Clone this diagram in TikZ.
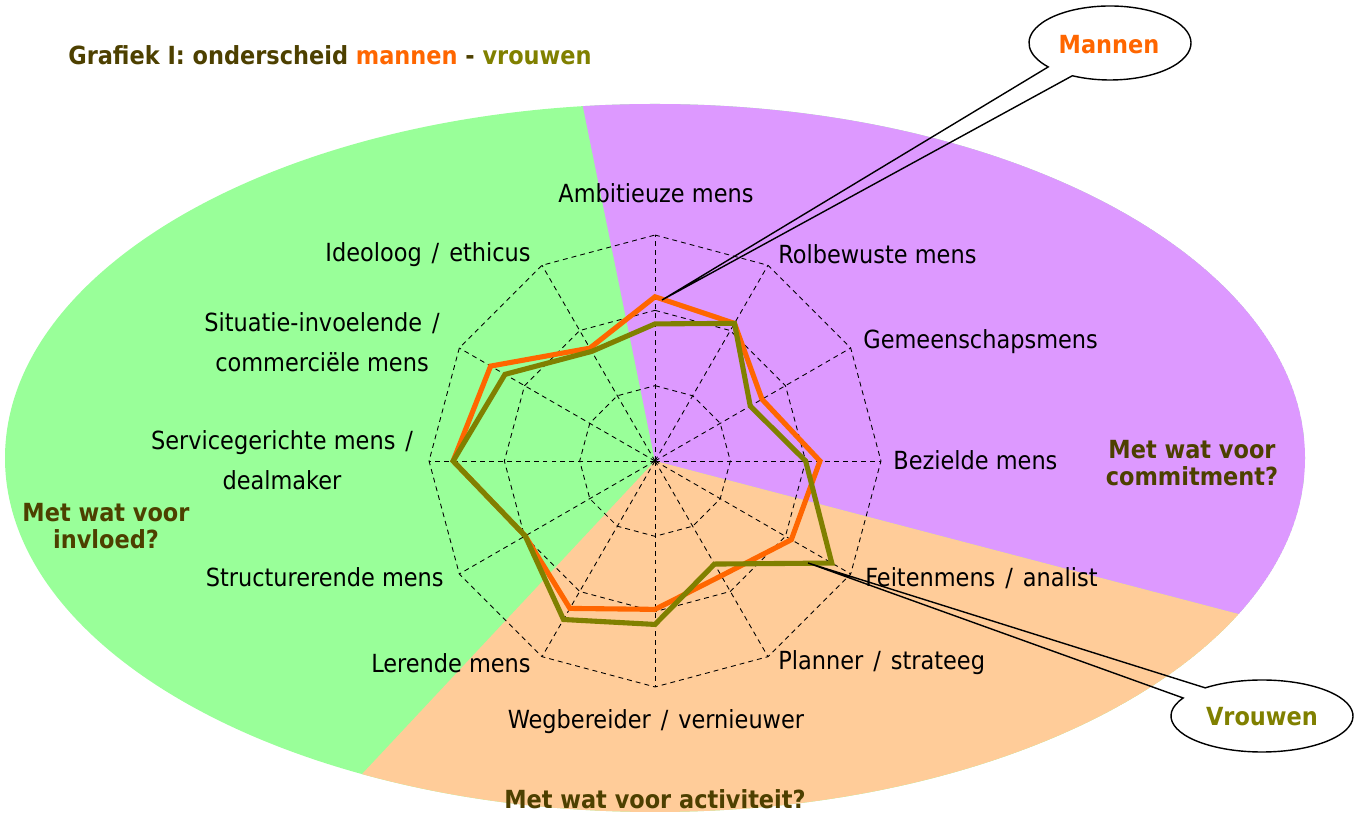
\documentclass[tikz,border=0pt]{standalone}
\usepackage{fontspec}
\setmainfont{DejaVu Sans Condensed}[BoldFont={DejaVu Sans Condensed Bold}]
\usepackage{tikz}
\usetikzlibrary{calc}
\definecolor{groen}{RGB}{153,255,153}
\definecolor{paars}{RGB}{221,153,255}
\definecolor{perzik}{RGB}{255,204,153}
\definecolor{mancol}{RGB}{255,102,0}
\definecolor{vrouwcol}{RGB}{128,128,0}
\definecolor{kop}{RGB}{77,64,0}
\newcommand{\sch}{\hspace{0.4em}/\hspace{0.4em}}
\tikzset{
  lbl/.style={font=\fontsize{14.2}{22.7}\selectfont, align=center, inner sep=0pt},
  kopje/.style={font=\fontsize{14.2}{15.6}\selectfont\bfseries, text=kop, align=center, inner sep=0pt},
  raster/.style={line width=0.5pt, dash pattern=on 2.8pt off 2.3pt},
  lijn/.style={line width=2.9pt},
  ballon/.style={line width=0.8pt}
}
\begin{document}
\begin{tikzpicture}[line cap=butt,line join=miter,x=0.02cm,y=0.02cm]
\useasboundingbox (0,0) rectangle (1359,814);
\coordinate (O) at (655,353);
\coordinate (E) at (655,356);
\begin{scope}
\clip (E) ellipse [x radius=650, y radius=354];
\fill[groen] (E) ellipse [x radius=650, y radius=354];
\begin{scope}[shift={(O)}]
\fill[paars] (0,0) -- (101.5:1500) -- (45:1500) -- (-14.7:1500) -- cycle;
\fill[perzik] (0,0) -- (-14.7:1500) -- (-74:1500) -- (-133.1:1500) -- cycle;
\end{scope}
\end{scope}
\begin{scope}[shift={(O)},x=1.5067cm,y=1.5067cm]
\foreach \r in {1,2,3}
\draw[raster] (90:\r) \foreach \k in {1,...,11} { -- ({90-30*\k}:\r) } -- cycle;
\foreach \k in {0,...,11}
\draw[raster] (0,0) -- ({90-30*\k}:3);
\draw[lijn,mancol] plot coordinates {(90:2.18) (60:2.11) (30:1.64) (0:2.19) (-30:2.09) (-60:1.76) (-90:1.97) (-120:2.26) (-150:1.99) (180:2.68) (150:2.52) (120:1.73)} -- cycle;
\draw[lijn,vrouwcol] plot coordinates {(90:1.82) (60:2.11) (30:1.46) (0:2.00) (-30:2.71) (-60:1.58) (-90:2.17) (-120:2.43) (-150:1.99) (180:2.68) (150:2.30) (120:1.68)} -- cycle;
\end{scope}
\node[lbl] (ambitieus) at (656,621) {Ambitieuze mens};
\node[lbl,anchor=west] (rolbewust) at (778,560) {Rolbewuste mens};
\node[lbl,anchor=west] (gemeenschap) at (863,472) {Gemeenschapsmens};
\node[lbl,anchor=west] (bezield) at (893,354) {Bezielde mens};
\node[lbl,anchor=west] (feiten) at (865,236) {Feitenmens\sch analist};
\node[lbl,anchor=west] (planner) at (778,151) {Planner\sch strateeg};
\node[lbl] (wegbereider) at (656,92) {Wegbereider\sch vernieuwer};
\node[lbl,anchor=east] (lerend) at (531,151) {Lerende mens};
\node[lbl,anchor=east] (structuur) at (444,237) {Structurerende mens};
\node[lbl] (service) at (282,354) {Servicegerichte mens\hspace{0.4em}/\\dealmaker};
\node[lbl] (situatie) at (322,472) {Situatie-invoelende\hspace{0.4em}/\\commerciële mens};
\node[lbl,anchor=east] (ideoloog) at (531,559) {Ideoloog\sch ethicus};
\node[kopje] (invloed) at (106,288) {Met wat voor\\invloed?};
\node[kopje] (commitment) at (1192,351) {Met wat voor\\commitment?};
\node[kopje] (activiteit) at (655,15) {Met wat voor activiteit?};
\node[kopje,anchor=west] (titel) at (68,759) {Grafiek I: onderscheid \textcolor{mancol}{mannen} - \textcolor{vrouwcol}{vrouwen}};
\coordinate (mtip) at (662,514);
\coordinate (vtip) at (808,251);
\draw[ballon] (mtip) -- ($(1110,771)+(242.3:81 and 37)$) arc[start angle=242.3,end angle=580.3,x radius=81,y radius=37] -- cycle;
\draw[ballon] (vtip) -- ($(1262,98)+(150:91 and 36)$) arc[start angle=150,end angle=488.6,x radius=91,y radius=36] -- cycle;
\node[kopje,text=mancol] (mannen) at (1109,769) {Mannen};
\node[kopje,text=vrouwcol] (vrouwen) at (1262,97) {Vrouwen};
\end{tikzpicture}
\end{document}
